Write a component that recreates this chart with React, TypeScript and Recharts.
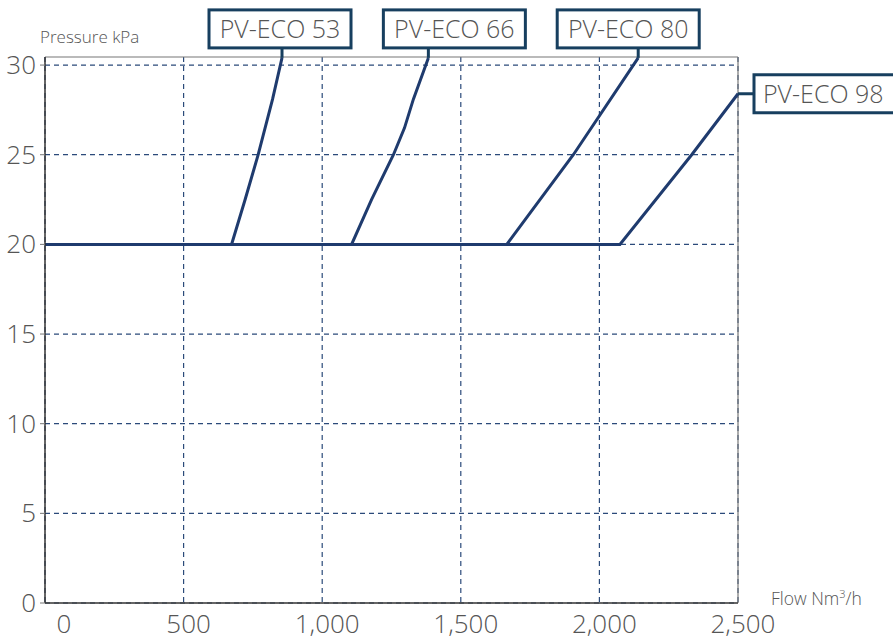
import React from "react"
import { LineChart, Line, XAxis, YAxis, CartesianGrid, ReferenceLine } from "recharts"

// flow in Nm3/h, pressure in kPa
const names = ["PV-ECO 53", "PV-ECO 66", "PV-ECO 80", "PV-ECO 98"]
const flow53 = [0, 673, 722, 769, 821, 855]
const pres53 = [20, 20, 22.5, 25, 28.1, 30.4]
const flow66 = [0, 1106, 1178, 1257, 1297, 1329, 1383]
const pres66 = [20, 20, 22.5, 25, 26.5, 28.1, 30.4]
const flow80 = [0, 1666, 1906, 2140]
const pres80 = [20, 20, 25, 30.4]
const flow98 = [0, 2074, 2333, 2500]
const pres98 = [20, 20, 25, 28.4]

const xTicks = [0, 500, 1000, 1500, 2000, 2500]
const yTicks = [0, 5, 10, 15, 20, 25, 30]

const toRows = (f: number[], p: number[]) => f.map((flow, i) => ({ flow, pressure: p[i] }))
const series = [
  toRows(flow53, pres53),
  toRows(flow66, pres66),
  toRows(flow80, pres80),
  toRows(flow98, pres98),
]

// label box placement relative to the end of each curve
const boxes = [
  { dx: -73, side: "top" },
  { dx: -45, side: "top" },
  { dx: -81, side: "top" },
  { dx: 16, side: "right" },
]

const FONT = "'Open Sans', sans-serif"
const LINE = "#1f3b6e"
const BOX = "#173f5f"
const TEXT = "#555"

function Tag({ cx, cy, name, dx, side }: any) {
  const w = 142
  const h = 38
  if (side === "right") {
    const x = cx + dx
    const y = cy - h / 2
    return (
      <g>
        <line x1={cx} y1={cy} x2={x} y2={cy} stroke={BOX} strokeWidth={3} />
        <rect x={x} y={y} width={w} height={h} fill="#fff" stroke={BOX} strokeWidth={3} />
        <text x={x + 9} y={y + 28} fontSize={25} fill={TEXT} fontFamily={FONT} fontWeight={300}>
          {name}
        </text>
      </g>
    )
  }
  const x = cx + dx
  const y = cy - 10 - h
  return (
    <g>
      <line x1={cx} y1={cy} x2={cx} y2={y + h} stroke={BOX} strokeWidth={3} />
      <rect x={x} y={y} width={w} height={h} fill="#fff" stroke={BOX} strokeWidth={3} />
      <text x={x + w / 2} y={y + 28} textAnchor="middle" fontSize={25} fill={TEXT} fontFamily={FONT} fontWeight={300}>
        {name}
      </text>
    </g>
  )
}

function XTick({ x, y, payload }: any) {
  const v = payload.value
  return (
    <text x={x + (v === 0 ? 19 : 5)} y={y + 22} textAnchor="middle" fontSize={26} fill={TEXT} fontFamily={FONT} fontWeight={300}>
      {v.toLocaleString("en-US")}
    </text>
  )
}

function YTick({ x, y, payload }: any) {
  return (
    <text x={x - 2} y={y + 9} textAnchor="end" fontSize={26} fill={TEXT} fontFamily={FONT} fontWeight={300}>
      {payload.value}
    </text>
  )
}

export default function App() {
  return (
    <div style={{ position: "absolute", left: 0, top: 0, width: 893, height: 642, background: "#fff" }}>
      <LineChart width={893} height={642} margin={{ top: 57, right: 155, bottom: 0, left: 0 }}>
        <CartesianGrid stroke="#2b4a7a" strokeWidth={1.2} strokeDasharray="5 4" horizontalValues={yTicks} verticalValues={xTicks} />
        <XAxis
          type="number"
          dataKey="flow"
          domain={[0, 2500]}
          ticks={xTicks}
          height={39}
          tickLine={false}
          axisLine={{ stroke: "#333", strokeWidth: 1.5 }}
          tick={<XTick />}
          allowDuplicatedCategory={false}
        />
        <YAxis
          type="number"
          domain={[0, 30.45]}
          ticks={yTicks}
          width={45}
          tickSize={5}
          tickLine={{ stroke: "#777" }}
          axisLine={{ stroke: "#333", strokeWidth: 1.5 }}
          tick={<YTick />}
        />
        <ReferenceLine y={30.45} stroke="#777" strokeWidth={1.2} />
        <ReferenceLine x={2500} stroke="#777" strokeWidth={1.2} />
        {series.map((rows, i) => (
          <Line
            key={names[i]}
            data={rows}
            dataKey="pressure"
            stroke={LINE}
            strokeWidth={3}
            isAnimationActive={false}
            type="linear"
            dot={(p: any) =>
              p.index === rows.length - 1 ? (
                <Tag key={`tag-${i}`} cx={p.cx} cy={p.cy} name={names[i]} dx={boxes[i].dx} side={boxes[i].side} />
              ) : (
                <g key={`d-${i}-${p.index}`} />
              )
            }
            activeDot={false}
          />
        ))}
        <text x={40} y={43} fontSize={17} fill={TEXT} fontFamily={FONT} fontWeight={300}>
          Pressure kPa
        </text>
        <text x={771} y={605} fontSize={17.5} fill={TEXT} fontFamily={FONT} fontWeight={300}>
          Flow Nm<tspan dy={-7} fontSize={11}>3</tspan>
          <tspan dy={7}>/h</tspan>
        </text>
      </LineChart>
    </div>
  )
}
